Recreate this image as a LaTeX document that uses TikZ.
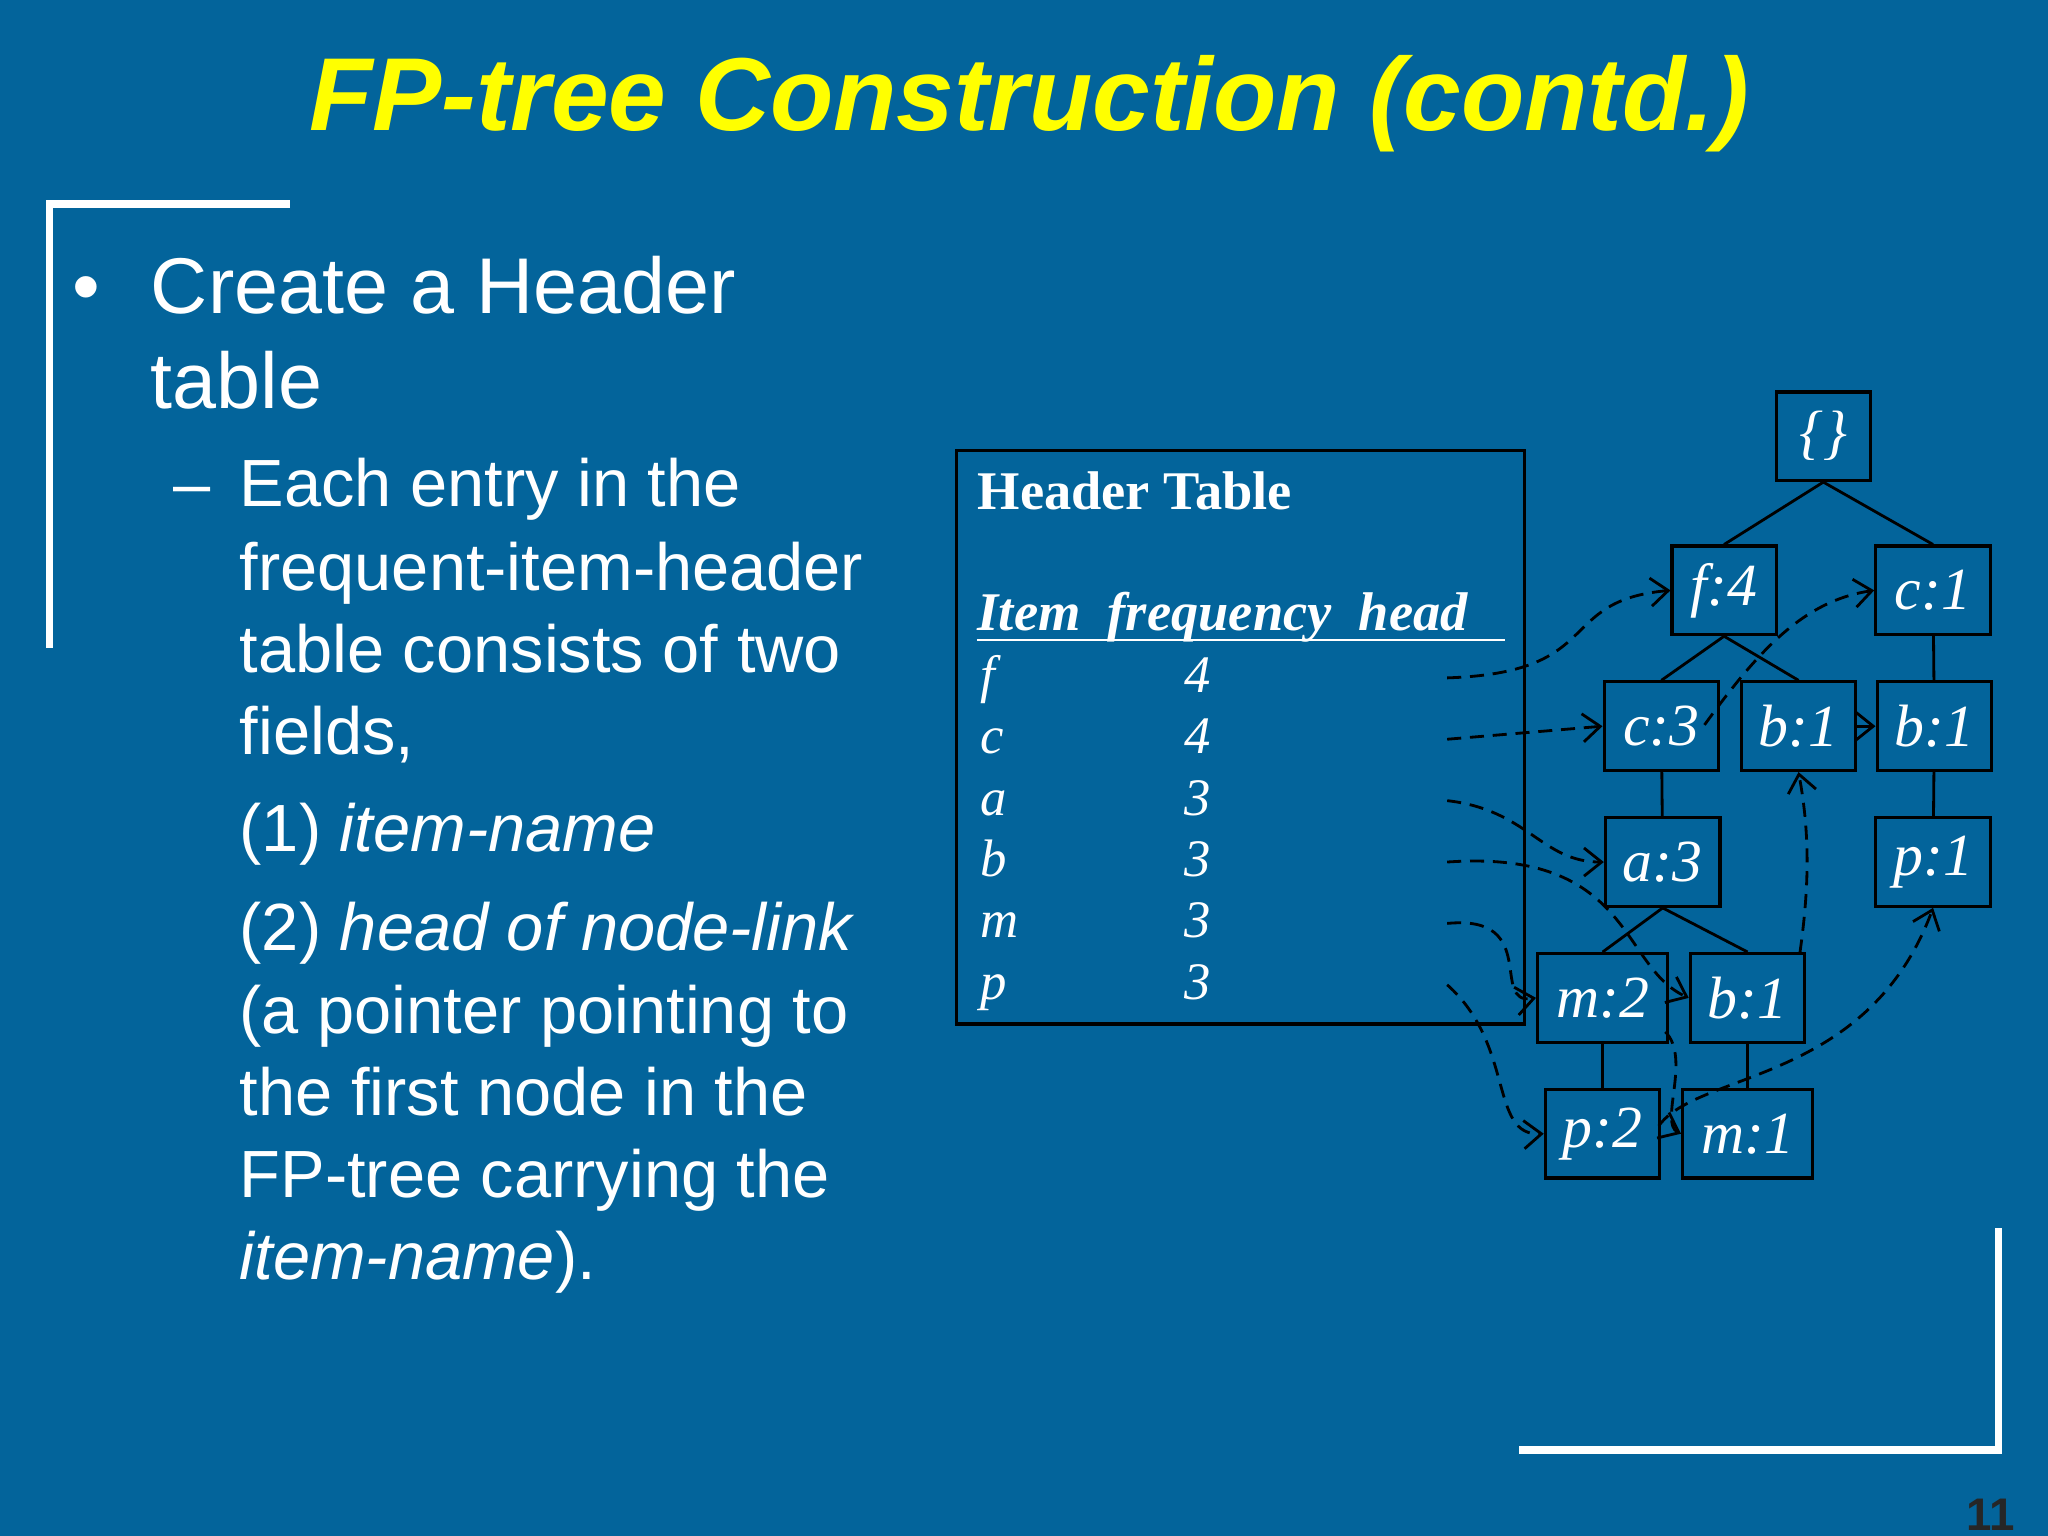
\documentclass[tikz,border=0pt]{standalone}
\usepackage{fontspec}
\setmainfont{Liberation Sans}
\newfontfamily\tnr{Liberation Serif}
\usetikzlibrary{arrows.meta}
\definecolor{bg}{RGB}{3,100,155}
\begin{document}
\begin{tikzpicture}[x=0.013061cm,y=-0.013061cm,
  tn/.style={draw=black,line width=0.9pt,minimum width=32.6pt,minimum height=25.2pt,inner sep=0pt,font=\tnr\itshape\fontsize{17}{17}\selectfont,text=white},
  txt/.style={anchor=base west,text=white,inner sep=0pt,font=\fontsize{22.5}{22.5}\selectfont},
  sub/.style={anchor=base west,text=white,inner sep=0pt,font=\fontsize{19}{19}\selectfont},
  ht/.style={anchor=base west,inner sep=0pt,text=white,font=\tnr\itshape\fontsize{15}{15}\selectfont},
  lk/.style={dash pattern=on 4pt off 2.5pt,line width=0.8pt,-{Straight Barb[length=5pt,width=8pt]}},
  br/.style={white,line width=2.2pt}]
\fill[bg] (0,0) rectangle (1568,1176);
\useasboundingbox (0,0) rectangle (1568,1176);
\node[text={rgb,255:red,255;green,255;blue,0},font=\bfseries\itshape\fontsize{29.5}{29.5}\selectfont,anchor=base] (title) at (788,100) {FP-tree Construction (contd.)};
\draw[br] (222,156) -- (38,156) -- (38,496);
\draw[br] (1163,1110) -- (1530,1110) -- (1530,940);
\node[anchor=base east,font=\bfseries\fontsize{13}{13}\selectfont,text=black!85] (pg) at (1552,1172) {11};
% left text
\node[txt] (bul) at (55,240) {•};
\node[txt] (l1) at (115,240) {Create a Header};
\node[txt] (l2) at (115,313) {table};
\node[sub] (d) at (132,388) {–};
\node[sub] (s1) at (183,388) {Each entry in the};
\node[sub] (s2) at (183,452) {frequent-item-header};
\node[sub] (s3) at (183,515) {table consists of two};
\node[sub] (s4) at (183,578) {fields,};
\node[sub] (s5) at (183,652) {(1) \textit{item-name}};
\node[sub] (s6) at (183,728) {(2) \textit{head of node-link}};
\node[sub] (s7) at (183,791) {(a pointer pointing to};
\node[sub] (s8) at (183,854) {the first node in the};
\node[sub] (s9) at (183,917) {FP-tree carrying the};
\node[sub] (s10) at (183,980) {\textit{item-name}).};
% header table
\draw[black,line width=0.9pt] (732,345) rectangle (1167,784);
\node[anchor=base west,inner sep=0pt,text=white,font=\tnr\bfseries\fontsize{15.5}{15.5}\selectfont] (htt) at (748,390) {Header Table};
\node[anchor=base west,inner sep=0pt,text=white,font=\tnr\bfseries\itshape\fontsize{15.5}{15.5}\selectfont] (hth) at (748,483) {Item\ \ frequency\ \ head\ };
\draw[white,line width=0.8pt] (748,490) -- (1152,490);
\foreach \n/\c/\v/\y in {rf/f/4/530,rc/c/4/577,ra/a/3/624,rb/b/3/671,rm/m/3/718,rp/p/3/765}{
  \node[ht] (\n) at (750,\y) {\c};
  \node[ht] (\n n) at (906,\y) {\v};
  \coordinate (\n o) at (1108,\y-11);
}
% tree
\node[tn,minimum width=26.7pt] (root) at (1396,334) {\{\}};
\node[tn,minimum width=29.6pt] (f4) at (1320,452) {f:4};
\node[tn] (c1) at (1480,452) {c:1};
\node[tn] (c3) at (1272,556) {c:3};
\node[tn] (b1m) at (1377,556) {b:1};
\node[tn] (b1r) at (1481,556) {b:1};
\node[tn] (a3) at (1273,660) {a:3};
\node[tn] (p1) at (1480,660) {p:1};
\node[tn,minimum width=37pt] (m2) at (1227,764) {m:2};
\node[tn] (b1l) at (1338,764) {b:1};
\node[tn] (p2) at (1227,868) {p:2};
\node[tn,minimum width=37pt] (m1) at (1338,868) {m:1};
\begin{scope}[black,line width=0.8pt]
\draw (root.south) -- (f4.north);
\draw (root.south) -- (c1.north);
\draw (f4.south) -- (c3.north);
\draw (f4.south) -- (b1m.north);
\draw (c3) -- (a3);
\draw (a3.south) -- (m2.north);
\draw (a3.south) -- (b1l.north);
\draw (m2) -- (p2);
\draw (b1l) -- (m1);
\draw (c1) -- (b1r);
\draw (b1r) -- (p1);
\end{scope}
% links
\begin{scope}[black]
\draw[lk] (rfo) .. controls (1230,515) and (1190,460) .. (f4.west);
\draw[lk] (rco) -- (c3.west);
\draw[lk] (1305,555) .. controls (1345,500) and (1380,460) .. (c1.west);
\draw[lk] (b1m.east) -- (b1r.west);
\draw[lk] (rao) .. controls (1170,620) and (1180,660) .. (a3.west);
\draw[lk] (rbo) .. controls (1250,650) and (1240,740) .. (b1l.west);
\draw[lk] (1378,730) .. controls (1385,680) and (1386,640) .. (b1m.south);
\draw[lk] (rmo) .. controls (1180,700) and (1140,770) .. (m2.west);
\draw[lk] (1275,790) .. controls (1295,810) and (1270,860) .. (m1.west);
\draw[lk] (rpo) .. controls (1160,800) and (1140,870) .. (p2.west);
\draw[lk] (1270,862) .. controls (1300,820) and (1430,830) .. (p1.south);
\end{scope}
\end{tikzpicture}
\end{document}
